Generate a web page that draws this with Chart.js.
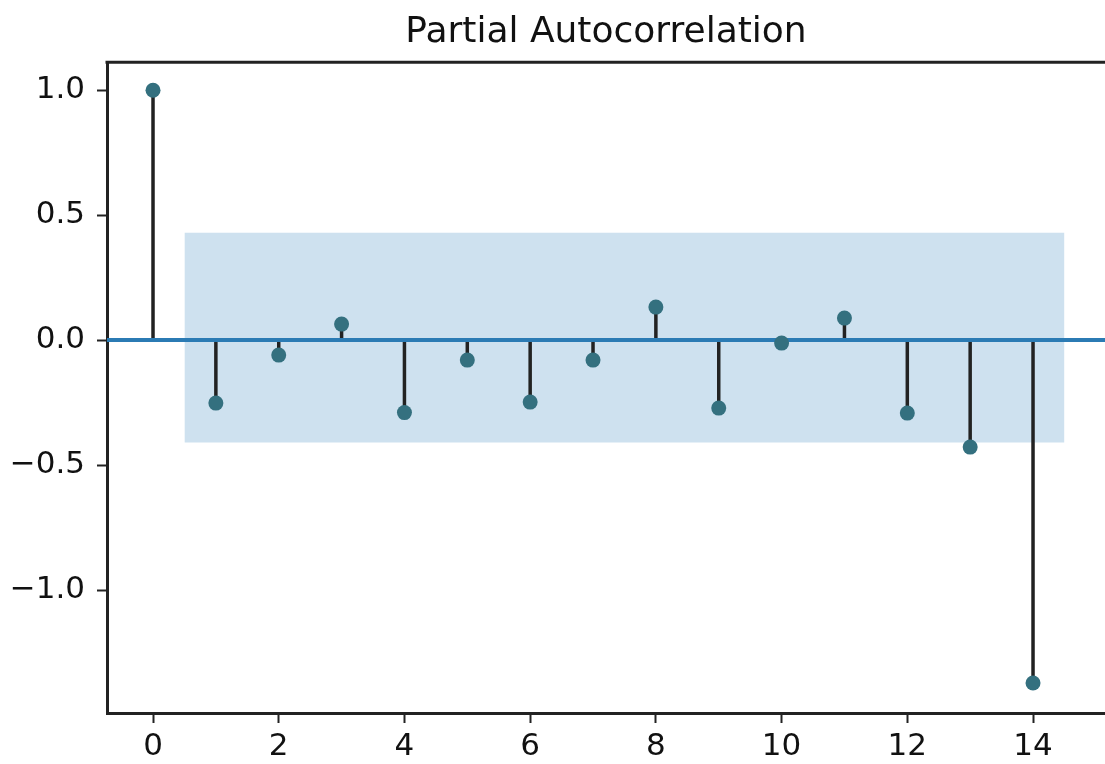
<!DOCTYPE html>
<html>
<head>
<meta charset="utf-8">
<script src="https://cdn.jsdelivr.net/npm/chart.js@4.4.1/dist/chart.umd.min.js"></script>
<style>
  body { margin: 0; background: #fff; }
</style>
</head>
<body>
<canvas id="pacfChart" width="1105" height="764"></canvas>
<script>
// PACF values per lag
const lags = [0, 1, 2, 3, 4, 5, 6, 7, 8, 9, 10, 11, 12, 13, 14];
const pacf = [1.0, -0.252, -0.06, 0.064, -0.29, -0.08, -0.248, -0.08, 0.132, -0.272, -0.012, 0.088, -0.292, -0.428, -1.372];
// confidence band for lags 1..14
const bandUpper = [0.43, 0.43, 0.43, 0.43, 0.43, 0.43, 0.43, 0.43, 0.43, 0.43, 0.43, 0.43, 0.43, 0.43];
const bandLower = [-0.41, -0.41, -0.41, -0.41, -0.41, -0.41, -0.41, -0.41, -0.41, -0.41, -0.41, -0.41, -0.41, -0.41];
const xTicks = [0, 2, 4, 6, 8, 10, 12, 14];
const yTicks = [-1.0, -0.5, 0.0, 0.5, 1.0];

const X_MIN = -0.732, X_MAX = 15.145;
const Y_MIN = -1.492, Y_MAX = 1.112;
const FONT = "'DejaVu Sans', sans-serif";

// band x positions like statsmodels: first/last lag pushed out by half a step
const bandLags = lags.slice(1).map((l, i, arr) => i === 0 ? l - 0.5 : (i === arr.length - 1 ? l + 0.5 : l));

const stems = [];
lags.forEach((l, i) => {
	stems.push({ x: l, y: 0 }, { x: l, y: pacf[i] }, { x: l, y: null });
});

// top spine
const topSpine = {
	id: 'topSpine',
	afterDraw(chart) {
		const { ctx, chartArea } = chart;
		ctx.save();
		ctx.strokeStyle = '#222';
		ctx.lineWidth = 3;
		ctx.beginPath();
		ctx.moveTo(chartArea.left - 1.5, chartArea.top);
		ctx.lineTo(chartArea.right, chartArea.top);
		ctx.stroke();
		ctx.restore();
	}
};

const ctx = document.getElementById('pacfChart').getContext('2d');
new Chart(ctx, {
	type: 'scatter',
	data: {
		datasets: [
			{
				label: 'PACF',
				data: lags.map((l, i) => ({ x: l, y: pacf[i] })),
				showLine: false,
				pointRadius: 7.5,
				pointBackgroundColor: '#34707f',
				pointBorderWidth: 0,
				order: 0
			},
			{
				label: 'zero',
				data: [{ x: X_MIN, y: 0 }, { x: X_MAX, y: 0 }],
				showLine: true,
				borderColor: '#2b7bb4',
				borderWidth: 4,
				pointRadius: 0,
				order: 1
			},
			{
				label: 'stems',
				data: stems,
				showLine: true,
				spanGaps: false,
				borderColor: '#222',
				borderWidth: 3.5,
				pointRadius: 0,
				order: 2
			},
			{
				label: 'upper',
				data: bandLags.map((l, i) => ({ x: l, y: bandUpper[i] })),
				showLine: true,
				borderWidth: 0,
				borderColor: 'rgba(0,0,0,0)',
				backgroundColor: 'rgba(31,119,180,0.22)',
				pointRadius: 0,
				fill: '+1',
				order: 3
			},
			{
				label: 'lower',
				data: bandLags.map((l, i) => ({ x: l, y: bandLower[i] })),
				showLine: true,
				borderWidth: 0,
				borderColor: 'rgba(0,0,0,0)',
				pointRadius: 0,
				fill: false,
				order: 4
			}
		]
	},
	options: {
		responsive: false,
		animation: false,
		layout: { padding: 0, autoPadding: false },
		plugins: {
			legend: { display: false },
			tooltip: { enabled: false },
			title: {
				display: true,
				fullSize: false,
				text: 'Partial Autocorrelation',
				color: '#111',
				font: { family: FONT, size: 36, weight: 'normal' },
				padding: { top: 11, bottom: 8 }
			}
		},
		scales: {
			x: {
				type: 'linear',
				min: X_MIN,
				max: X_MAX,
				afterFit(scale) {
					scale.height = 51;
					scale.paddingLeft = 0;
					scale.paddingRight = 0;
				},
				afterBuildTicks(scale) { scale.ticks = xTicks.map(v => ({ value: v })); },
				grid: { drawOnChartArea: false, drawTicks: true, tickLength: 10, tickColor: '#222', tickWidth: 2 },
				border: { color: '#222', width: 3 },
				ticks: {
					color: '#111',
					padding: 5,
					maxRotation: 0,
					font: { family: FONT, size: 31 },
					callback: v => String(v)
				}
			},
			y: {
				type: 'linear',
				min: Y_MIN,
				max: Y_MAX,
				afterFit(scale) {
					scale.width = 107;
					scale.paddingTop = 0;
					scale.paddingBottom = 0;
				},
				afterBuildTicks(scale) { scale.ticks = yTicks.map(v => ({ value: v })); },
				grid: { drawOnChartArea: false, drawTicks: true, tickLength: 10, tickColor: '#222', tickWidth: 2 },
				border: { color: '#222', width: 3 },
				ticks: {
					color: '#111',
					padding: 12,
					font: { family: FONT, size: 31 },
					callback: v => (v < 0 ? '\u2212' : '') + Math.abs(v).toFixed(1)
				}
			}
		}
	},
	plugins: [topSpine]
});
</script>
</body>
</html>
